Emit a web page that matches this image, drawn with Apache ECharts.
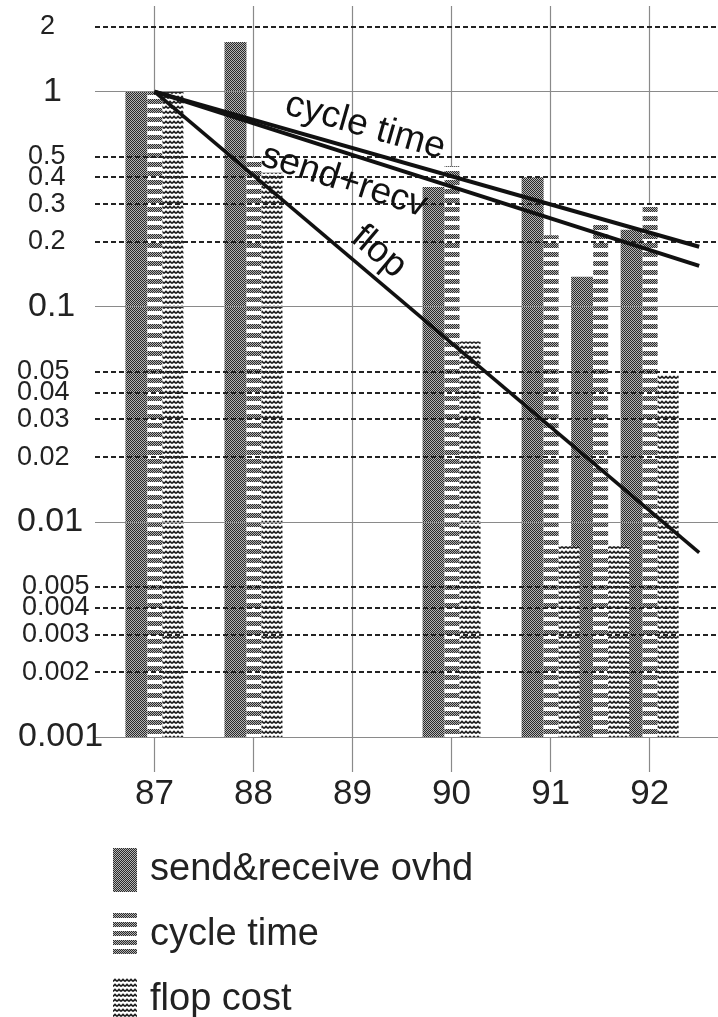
<!DOCTYPE html>
<html>
<head>
<meta charset="utf-8">
<title>Relative cost trends</title>
<script src="https://cdn.jsdelivr.net/npm/echarts@6/dist/echarts.min.js"></script>
<style>
html, body { margin: 0; padding: 0; background: #ffffff; }
#main { width: 718px; height: 1017px; }
</style>
</head>
<body>
<div id="main"></div>
<script>
// Year of each machine (x position of each group of bars)
var years = [87, 88, 90, 91, 91.5, 92];
// Costs relative to 87
var sendRecv = [1, 1.7, 0.36, 0.4, 0.138, 0.228];
var cycleTime = [1, 0.5, 0.45, 0.215, 0.25, 0.3];
var flopCost = [1, 0.42, 0.069, 0.0077, 0.0077, 0.048];

// Trend lines, straight on the log scale
var trendYears = [87, 92.5];
var cycleTrend = [1, 0.19];
var sendTrend = [1, 0.155];
var flopTrend = [1, 0.0072];

// Tick labels
var xTicks = [87, 88, 89, 90, 91, 92];
var majorTicks = [1, 0.1, 0.01, 0.001];
var minorTicks = [2, 0.5, 0.4, 0.3, 0.2, 0.05, 0.04, 0.03, 0.02, 0.005, 0.004, 0.003, 0.002];

var font = '"Liberation Sans", Arial, Helvetica, sans-serif';
var gridLeft = 95;

// Small canvas used as a repeated fill, like the old halftone patterns
function makePattern(w, h, draw) {
	var c = document.createElement('canvas');
	c.width = w;
	c.height = h;
	var ctx = c.getContext('2d');
	ctx.fillStyle = '#ffffff';
	ctx.fillRect(0, 0, w, h);
	draw(ctx);
	return { image: c, repeat: 'repeat' };
}

function checker(ctx, y0, y1, w) {
	for (var y = y0; y < y1; y++) {
		for (var x = 0; x < w; x++) {
			ctx.fillStyle = (x + y) % 2 == 0 ? '#2a2a2a' : '#b4b4b4';
			ctx.fillRect(x, y, 1, 1);
		}
	}
}

var sendPattern = makePattern(2, 2, function(ctx) { checker(ctx, 0, 2, 2); });
var cyclePattern = makePattern(2, 9, function(ctx) { checker(ctx, 0, 5, 2); });
var flopPattern = makePattern(4, 5, function(ctx) {
	ctx.strokeStyle = '#1e1e1e';
	ctx.lineWidth = 1.7;
	ctx.beginPath();
	ctx.moveTo(0, 3.5);
	ctx.lineTo(2, 1.5);
	ctx.lineTo(4, 3.5);
	ctx.stroke();
});

function pairs(xs, ys) {
	var out = [];
	for (var i = 0; i < xs.length; i++) {
		out.push([xs[i], ys[i]]);
	}
	return out;
}

// Where each y label starts on the left (labels are left aligned in the scan)
function labelStart(text, major) {
	if (text == '1') return 43;
	if (text == '2') return 40;
	if (text.length == 3) return 28;
	if (text.length == 4) return 17;
	return major ? 18 : 22;
}

// Horizontal grid lines: solid for decades, dotted in between
function gridLines() {
	var data = [];
	var all = majorTicks.concat(minorTicks);
	for (var i = 0; i < all.length; i++) {
		var v = all[i];
		var major = i < majorTicks.length;
		var text = String(v);
		data.push({
			yAxis: v,
			lineStyle: major ?
				{ type: 'solid', color: '#8a8a8a', width: 1.2 } :
				{ type: [5, 3], color: '#222222', width: 2 },
			label: {
				show: true,
				position: 'start',
				align: 'left',
				distance: gridLeft - labelStart(text, major),
				formatter: text,
				fontSize: major ? 34 : 27,
				color: '#222222',
				fontFamily: font
			}
		});
	}
	return data;
}

// Text written along a trend line
function trendLabel(name, values, pos, dist) {
	return {
		silent: true,
		symbol: 'none',
		precision: 6,
		lineStyle: { color: 'transparent', width: 0 },
		label: {
			show: true,
			position: pos,
			distance: dist,
			formatter: name,
			fontSize: 37,
			color: '#111111',
			fontFamily: font
		},
		data: [[
			{ coord: [trendYears[0], values[0]] },
			{ coord: [trendYears[1], values[1]] }
		]]
	};
}

function barSeries(name, values, pattern, width) {
	return {
		name: name,
		type: 'bar',
		data: pairs(years, values),
		barWidth: width,
		barGap: '0%',
		itemStyle: { color: pattern },
		z: 2
	};
}

function trendSeries(name, values, width, label) {
	return {
		name: name,
		type: 'line',
		data: pairs(trendYears, values),
		symbol: 'none',
		lineStyle: { color: '#111111', width: width },
		z: 5,
		markLine: label
	};
}

var myChart = echarts.init(document.getElementById('main'));

var option = {
	animation: false,
	backgroundColor: '#ffffff',
	textStyle: { fontFamily: font },
	grid: { left: gridLeft, right: 0, top: 6, bottom: 280 },
	legend: {
		orient: 'vertical',
		left: 113,
		top: 848,
		height: 220,
		padding: 0,
		icon: 'rect',
		itemWidth: 24,
		itemHeight: 44,
		itemGap: 21,
		textStyle: { fontSize: 38, color: '#222222', fontFamily: font, padding: [0, 0, 0, 8] },
		data: ['send&receive ovhd', 'cycle time', 'flop cost']
	},
	xAxis: {
		type: 'value',
		min: 86.4,
		max: 92.69,
		axisLine: { show: false },
		axisTick: {
			show: true,
			length: 35,
			customValues: xTicks,
			lineStyle: { color: '#8a8a8a', width: 1.2 }
		},
		axisLabel: {
			customValues: xTicks,
			fontSize: 35,
			color: '#222222',
			margin: 40,
			fontFamily: font
		},
		splitLine: { show: true, lineStyle: { color: '#8a8a8a', width: 1.2 } }
	},
	yAxis: {
		type: 'log',
		logBase: 10,
		min: 0.001,
		max: 2.5,
		startValue: 0.001,
		axisLine: { show: false },
		axisTick: { show: false },
		axisLabel: { show: false },
		splitLine: { show: false }
	},
	series: [
		{
			name: 'grid',
			type: 'line',
			data: [],
			z: 1,
			markLine: { silent: true, symbol: 'none', precision: 6, data: gridLines() }
		},
		barSeries('send&receive ovhd', sendRecv, sendPattern, 22),
		barSeries('cycle time', cycleTime, cyclePattern, 15),
		barSeries('flop cost', flopCost, flopPattern, 21),
		trendSeries('cycle time trend', cycleTrend, 4, trendLabel('cycle time', cycleTrend, 'insideStartTop', [130, 6])),
		trendSeries('send+recv trend', sendTrend, 4, trendLabel('send+recv', sendTrend, 'insideStartBottom', [122, 9])),
		trendSeries('flop trend', flopTrend, 3.5, trendLabel('flop', flopTrend, 'insideStartTop', [245, 4]))
	]
};

myChart.setOption(option);
</script>
</body>
</html>
